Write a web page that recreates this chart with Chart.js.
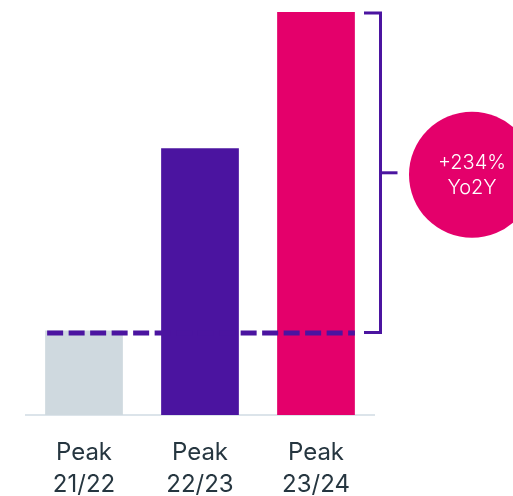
<!DOCTYPE html>
<html>
<head>
<meta charset="utf-8">
<script src="https://cdn.jsdelivr.net/npm/chart.js@4/dist/chart.umd.min.js"></script>
<style>
  html, body { margin: 0; padding: 0; background: #ffffff; }
  #wrap { width: 513px; height: 496px; position: relative; }
</style>
</head>
<body>
<div id="wrap"><canvas id="c" width="513" height="496"></canvas></div>
<script>
// Peak demand per season (indexed, 21/22 = 100)
const categories = [['Peak', '21/22'], ['Peak', '22/23'], ['Peak', '23/24']];
const peakValues = [100, 234, 334];
const barColors = ['#cfd9df', '#4b14a0', '#e4006b'];
const growthLabelSuffix = 'Yo2Y';

const PURPLE = '#4b14a0';
const PINK = '#e4006b';

// Dashed reference line at the first season's peak, bracket and growth badge
const growthOverlay = {
  id: 'growthOverlay',
  afterDatasetsDraw(chart) {
    const ctx = chart.ctx;
    const y = chart.scales.y;
    const area = chart.chartArea;
    const bars = chart.getDatasetMeta(0).data;
    const base = peakValues[0];
    const last = peakValues[peakValues.length - 1];
    const yBase = y.getPixelForValue(base);
    const yLast = y.getPixelForValue(last);

    ctx.save();
    // dashed line at the first season's level
    const first = bars[0], end = bars[bars.length - 1];
    ctx.strokeStyle = PURPLE;
    ctx.lineWidth = 5;
    ctx.setLineDash([16, 5.5]);
    ctx.beginPath();
    ctx.moveTo(first.x - first.width / 2 + 2, yBase + 2.5);
    ctx.lineTo(end.x + end.width / 2, yBase + 2.5);
    ctx.stroke();

    // bracket
    ctx.setLineDash([]);
    ctx.lineWidth = 3;
    const bx = area.right + 6.5;
    const bTop = yLast + 1;
    const bBot = yBase + 2;
    ctx.beginPath();
    ctx.moveTo(area.right - 10, bTop);
    ctx.lineTo(bx, bTop);
    ctx.lineTo(bx, bBot);
    ctx.lineTo(area.right - 10, bBot);
    ctx.stroke();
    const mid = (bTop + bBot) / 2;
    ctx.beginPath();
    ctx.moveTo(bx, mid);
    ctx.lineTo(bx + 17, mid);
    ctx.stroke();

    // growth badge
    const cx = area.right + 98;
    const cy = mid + 2;
    ctx.fillStyle = PINK;
    ctx.beginPath();
    ctx.arc(cx, cy, 63, 0, Math.PI * 2);
    ctx.fill();

    const pct = Math.round((last / base - 1) * 100);
    ctx.fillStyle = '#ffffff';
    ctx.textAlign = 'center';
    ctx.textBaseline = 'middle';
    ctx.font = '300 20px Inter';
    ctx.fillText('+' + pct + '%', cx, cy - 12);
    ctx.fillText(growthLabelSuffix, cx, cy + 13);
    ctx.restore();
  }
};

new Chart(document.getElementById('c'), {
  type: 'bar',
  data: {
    labels: categories,
    datasets: [{
      data: peakValues,
      backgroundColor: barColors,
      borderWidth: 0,
      barPercentage: 0.67,
      categoryPercentage: 1.0
    }]
  },
  options: {
    responsive: false,
    animation: false,
    events: [],
    layout: { padding: { left: 26, right: 139, top: 12, bottom: 0 } },
    plugins: { legend: { display: false }, tooltip: { enabled: false } },
    scales: {
      x: {
        grid: { display: false, drawTicks: false },
        border: { display: true, color: '#dce4ea', width: 2 },
        ticks: {
          color: '#263640',
          padding: 22,
          font: { family: 'Inter', size: 24, weight: '400', lineHeight: '32px' }
        },
        afterFit(scale) { scale.height = 81; }
      },
      y: {
        display: false,
        min: 38,
        max: 334
      }
    }
  },
  plugins: [growthOverlay]
});
</script>
</body>
</html>
